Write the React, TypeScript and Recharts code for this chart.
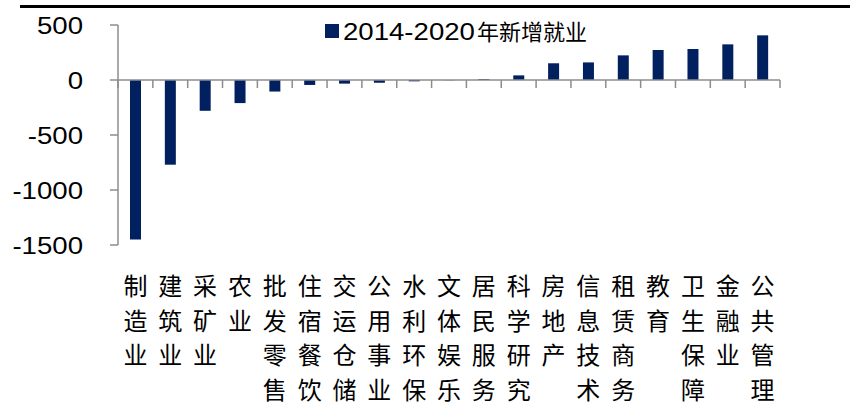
import React from 'react';
import { BarChart, Bar, XAxis, YAxis, ReferenceLine, Legend } from 'recharts';

const categories = ['制造业', '建筑业', '采矿业', '农业', '批发零售', '住宿餐饮', '交运仓储', '公用事业', '水利环保', '文体娱乐', '居民服务', '科学研究', '房地产', '信息技术', '租赁商务', '教育', '卫生保障', '金融业', '公共管理'];
const values = [-1450, -770, -280, -210, -105, -45, -33, -25, -12, -2, 8, 42, 152, 160, 224, 273, 282, 324, 406];
const yTicks = [-1500, -1000, -500, 0, 500];
const seriesName = '2014-2020年新增就业';
const legendLatin = '2014-2020';
const legendCjk = '年新增就业';

const data = categories.map((name, i) => ({ name, value: values[i] }));

const NAVY = '#002060';
const AXIS = '#8c8c8c';

const YTick = (props: any) => {
  const { x, y, payload } = props;
  return (
    <text
      transform={`translate(${x},${y}) scale(1.15,1)`}
      textAnchor="end"
      dy="0.36em"
      fontSize={24}
      fontFamily="'Liberation Sans', Arial, sans-serif"
      fill="#000"
    >
      {payload.value}
    </text>
  );
};

const XTick = (props: any) => {
  const { x, y, payload } = props;
  const chars = Array.from(String(payload.value));
  return (
    <g>
      {chars.map((c, i) => (
        <text
          key={i}
          x={x}
          y={y + 50 + i * 34.5}
          textAnchor="middle"
          fontSize={24}
          fontFamily="'Noto Sans CJK SC', sans-serif"
          fill="#000"
        >
          {c}
        </text>
      ))}
    </g>
  );
};

const ZeroLine = (props: any) => {
  const { x1, y1, x2 } = props;
  const n = categories.length;
  const step = (x2 - x1) / n;
  const marks = [];
  for (let i = 0; i <= n; i++) {
    const xx = x1 + i * step;
    marks.push(<line key={i} x1={xx} x2={xx} y1={y1} y2={y1 + 8} stroke={AXIS} strokeWidth={1.5} />);
  }
  return (
    <g>
      <line x1={x1} x2={x2} y1={y1} y2={y1} stroke={AXIS} strokeWidth={1.5} />
      {marks}
    </g>
  );
};

const LegendContent = () => (
  <svg width={300} height={34} style={{ display: 'block', overflow: 'visible' }}>
    <rect x={0} y={4} width={14} height={14} fill={NAVY} />
    <text
      transform="translate(18,19.5) scale(1.2,1)"
      fontSize={23}
      fontFamily="'Liberation Sans', Arial, sans-serif"
      fill="#000"
    >
      {legendLatin}
    </text>
    <text x={152} y={19.5} fontSize={22} fontFamily="'Noto Sans CJK SC', sans-serif" fill="#000">
      {legendCjk}
    </text>
  </svg>
);

export default function App() {
  return (
    <div style={{ position: 'absolute', left: 0, top: 0, width: 850, height: 407, background: '#fff' }}>
      <div style={{ position: 'absolute', left: 20, top: 5, width: 830, height: 3, background: '#000' }} />
      <BarChart
        width={850}
        height={407}
        data={data}
        margin={{ top: 25, right: 70, bottom: 0, left: 0 }}
      >
        <YAxis
          width={118}
          domain={[-1500, 500]}
          ticks={yTicks}
          interval={0}
          axisLine={{ stroke: AXIS, strokeWidth: 1.5 }}
          tickLine={{ stroke: AXIS, strokeWidth: 1.5 }}
          tickSize={8}
          tickMargin={27}
          tick={<YTick />}
        />
        <XAxis
          dataKey="name"
          height={162}
          axisLine={false}
          tickLine={false}
          tickSize={0}
          tickMargin={0}
          interval={0}
          tick={<XTick />}
        />
        <Legend
          verticalAlign="middle"
          align="center"
          layout="horizontal"
          wrapperStyle={{ top: 20, left: 325, width: 300, height: 34 }}
          content={<LegendContent />}
        />
        <Bar dataKey="value" name={seriesName} fill={NAVY} barSize={11} isAnimationActive={false} />
        <ReferenceLine y={0} shape={<ZeroLine />} />
      </BarChart>
    </div>
  );
}
